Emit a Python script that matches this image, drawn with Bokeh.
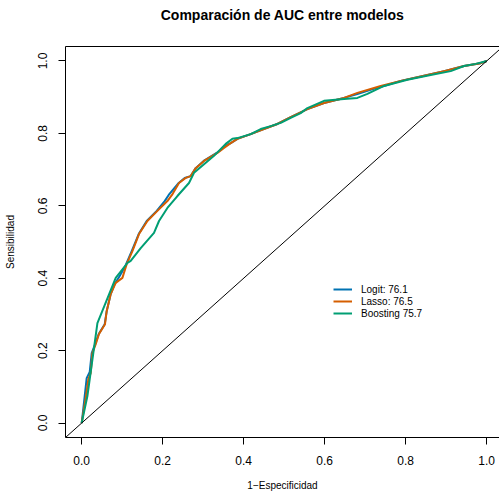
import math
from bokeh.plotting import figure
from bokeh.models import (Range1d, FixedTicker, PrintfTickFormatter, LinearAxis,
                          Legend, LegendItem, Slope)
from bokeh.embed import file_html
from bokeh.resources import INLINE

# ---------------- data ----------------
logit_fpr = [0.0, 0.0074, 0.0123, 0.0198, 0.0247, 0.0333, 0.0420, 0.0568, 0.0617,
             0.0716, 0.0815, 0.0938, 0.1086, 0.1235, 0.1407, 0.1605, 0.1852, 0.2049,
             0.2148, 0.2395, 0.2543, 0.2691, 0.2815, 0.3012, 0.3333, 0.3457, 0.3531,
             0.3679, 0.3844, 0.4173, 0.4494, 0.4832, 0.5160, 0.5573, 0.5983, 0.6477,
             0.6807, 0.7210, 0.7383, 0.7877, 0.8452, 0.8946, 0.9440, 0.9852, 1.0]
logit_tpr = [0.0, 0.0746, 0.124, 0.141, 0.193, 0.218, 0.246, 0.273, 0.309,
             0.356, 0.384, 0.406, 0.436, 0.475, 0.522, 0.558, 0.586, 0.613,
             0.630, 0.663, 0.677, 0.682, 0.704, 0.724, 0.746, 0.757, 0.765,
             0.773, 0.785, 0.798, 0.812, 0.826, 0.845, 0.867, 0.884, 0.898,
             0.909, 0.923, 0.928, 0.945, 0.959, 0.972, 0.986, 0.994, 1.0]

lasso_fpr = [0.0, 0.0099, 0.0165, 0.0222, 0.0264, 0.0346, 0.0427, 0.0575, 0.0617,
             0.0716, 0.0840, 0.1005, 0.1111, 0.1252, 0.1415, 0.1622, 0.1869, 0.2116,
             0.2247, 0.2402, 0.2568, 0.2691, 0.2815, 0.3020, 0.3351, 0.3514, 0.3679,
             0.3844, 0.4173, 0.4501, 0.4832, 0.5160, 0.5573, 0.5983, 0.6477, 0.6807,
             0.7383, 0.7877, 0.8452, 0.8946, 0.9440, 0.9852, 1.0]
lasso_tpr = [0.0, 0.069, 0.1215, 0.138, 0.193, 0.218, 0.246, 0.273, 0.309,
             0.356, 0.387, 0.401, 0.439, 0.475, 0.522, 0.558, 0.586, 0.613,
             0.633, 0.663, 0.677, 0.682, 0.704, 0.724, 0.746, 0.760, 0.773,
             0.785, 0.798, 0.812, 0.826, 0.845, 0.867, 0.884, 0.898, 0.912,
             0.931, 0.945, 0.959, 0.972, 0.986, 0.994, 1.0]

boost_fpr = [0.0, 0.0141, 0.0388, 0.0840, 0.1128, 0.1210, 0.1457, 0.1785, 0.1909,
             0.2116, 0.2363, 0.2649, 0.2773, 0.3020, 0.3267, 0.3556, 0.3721, 0.3844,
             0.4173, 0.4420, 0.4667, 0.4914, 0.5160, 0.5407, 0.5573, 0.5983, 0.6477,
             0.6807, 0.7054, 0.7464, 0.8042, 0.8617, 0.9111, 0.9440, 0.9728, 1.0]
boost_tpr = [0.0, 0.0746, 0.276, 0.401, 0.442, 0.448, 0.483, 0.525, 0.558,
             0.594, 0.627, 0.663, 0.691, 0.715, 0.738, 0.771, 0.785, 0.787,
             0.798, 0.812, 0.820, 0.829, 0.843, 0.856, 0.870, 0.890, 0.895,
             0.898, 0.909, 0.931, 0.948, 0.961, 0.972, 0.986, 0.992, 1.0]

tick_values = [0.0, 0.2, 0.4, 0.6, 0.8, 1.0]
title_text = "Comparación de AUC entre modelos"
x_title = "1\u2212Especificidad"
y_title = "Sensibilidad"
legend_labels = ["Logit: 76.1", "Lasso: 76.5", "Boosting 75.7"]
colors = ["#0072B2", "#D55E00", "#009E73"]

# ---------------- figure ----------------
FONT = "Liberation Sans"
W, H = 499, 496
ML, MR, MT, MB = 65, 0, 46, 59
frame_w = W - ML - MR
px_per_unit_x = 405.0
x_start = -0.04
x_end = x_start + frame_w / px_per_unit_x

p = figure(width=W, height=H, output_backend="svg", toolbar_location=None,
           x_range=Range1d(x_start, x_end), y_range=Range1d(-0.04, 1.04),
           min_border_left=ML, min_border_right=MR, min_border_top=MT,
           min_border_bottom=MB)
p.outline_line_color = None
p.grid.visible = False
p.background_fill_color = "white"
p.border_fill_color = "white"

for ax in (p.xaxis[0], p.yaxis[0]):
    ax.ticker = FixedTicker(ticks=tick_values)
    ax.formatter = PrintfTickFormatter(format="%.1f")
    ax.major_tick_out = 7
    ax.major_tick_in = 0
    ax.minor_tick_line_color = None
    ax.axis_line_color = "black"
    ax.major_tick_line_color = "black"
    ax.major_label_text_font = FONT
    ax.major_label_text_font_size = "12px"
    ax.major_label_text_color = "black"
    ax.axis_label_text_font = FONT
    ax.axis_label_text_font_size = "10px"
    ax.axis_label_text_font_style = "normal"
    ax.axis_label_text_color = "black"
p.xaxis.major_label_standoff = 11
p.yaxis.major_label_standoff = 11
p.yaxis.major_label_orientation = "vertical"
p.xaxis.axis_label = x_title
p.yaxis.axis_label = y_title
p.xaxis.axis_label_standoff = 12
p.yaxis.axis_label_standoff = 20

# top side of the box (an axis without ticks) carrying the chart title
top_axis = LinearAxis(ticker=FixedTicker(ticks=[]), axis_line_color="black",
                      major_tick_out=0, major_tick_in=0,
                      major_tick_line_color=None, minor_tick_line_color=None,
                      axis_label=title_text, axis_label_standoff=24,
                      axis_label_text_font=FONT, axis_label_text_font_size="14px",
                      axis_label_text_font_style="bold",
                      axis_label_text_color="black")
p.add_layout(top_axis, "above")

# diagonal reference
p.add_layout(Slope(gradient=1, y_intercept=0, line_color="black", line_width=1))

r1 = p.line(logit_fpr, logit_tpr, line_color=colors[0], line_width=2, line_join="round")
r2 = p.line(lasso_fpr, lasso_tpr, line_color=colors[1], line_width=2, line_join="round")
r3 = p.line(boost_fpr, boost_tpr, line_color=colors[2], line_width=2, line_join="round")

legend = Legend(items=[LegendItem(label=legend_labels[0], renderers=[r1]),
                       LegendItem(label=legend_labels[1], renderers=[r2]),
                       LegendItem(label=legend_labels[2], renderers=[r3])],
                location=(268, 118), orientation="vertical")
legend.border_line_color = None
legend.background_fill_alpha = 0
legend.padding = 0
legend.margin = 0
legend.spacing = 0
legend.glyph_width = 19
legend.glyph_height = 12
legend.label_height = 12
legend.label_standoff = 9
legend.label_text_font = FONT
legend.label_text_font_size = "10px"
legend.label_text_color = "black"
p.add_layout(legend)

open("out.html", "w").write(file_html(p, INLINE))
